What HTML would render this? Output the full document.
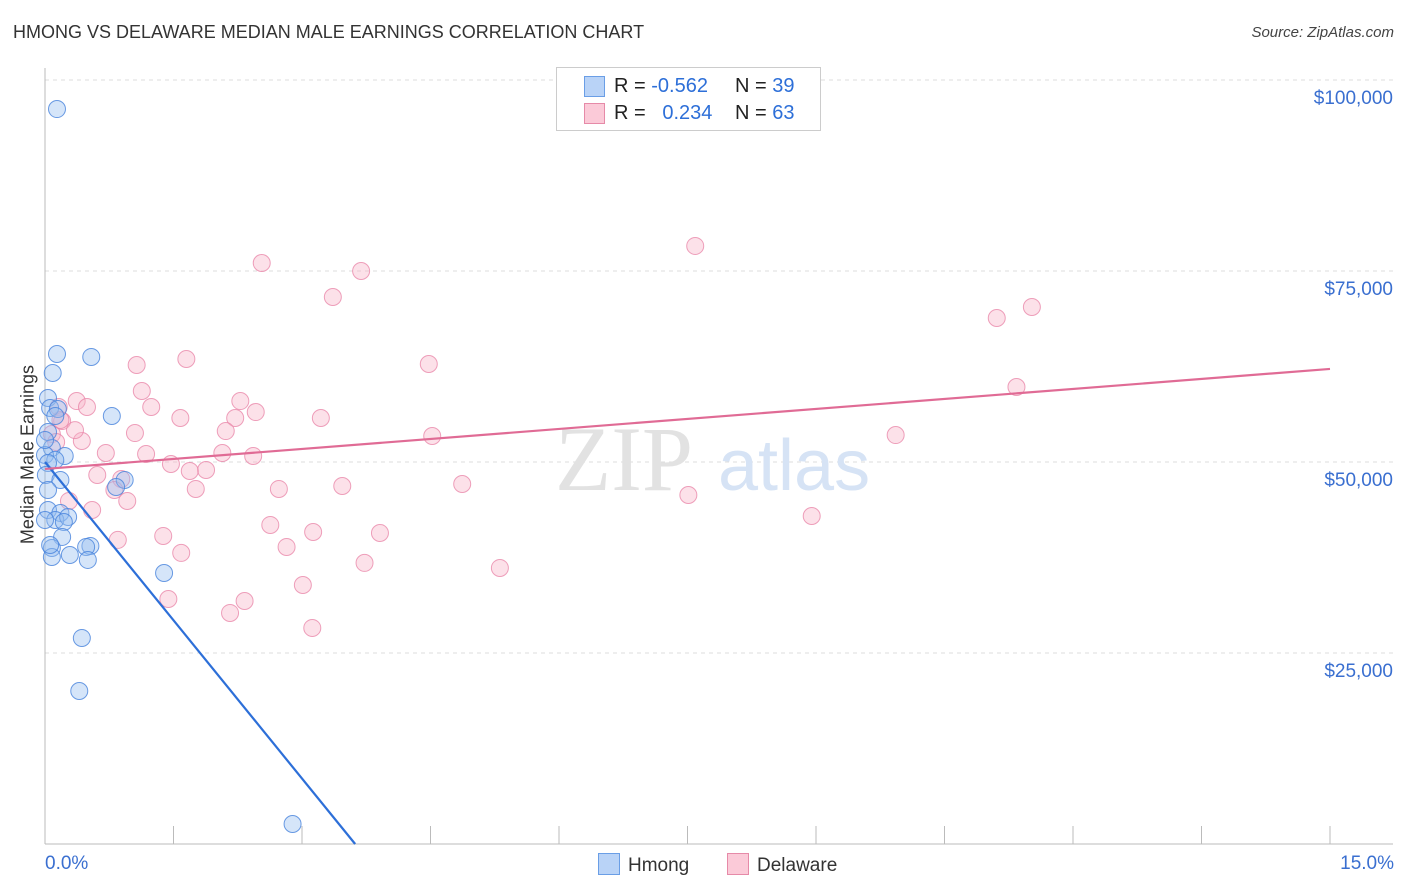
<!DOCTYPE html>
<html><head><meta charset="utf-8">
<style>
body{margin:0;background:#fff;font-family:"Liberation Sans",sans-serif;}
#wrap{position:relative;width:1406px;height:892px;overflow:hidden;}
.t{position:absolute;white-space:nowrap;}
</style></head><body>
<div id="wrap">
<div class="t" style="left:13px;top:22px;font-size:18px;color:#333;">HMONG VS DELAWARE MEDIAN MALE EARNINGS CORRELATION CHART</div>
<div class="t" style="right:12px;top:24px;font-size:15px;color:#444;font-style:italic;">Source: ZipAtlas.com</div>
<svg id="chart" width="1406" height="892" style="position:absolute;left:0;top:0"></svg>
</div>
<script>
const hmongX=[0.14,0.14,0.54,0.09,0.035,0.06,0.15,0.78,0.12,0.035,0.08,0.0,0.23,0.12,0.035,0.01,0.18,0.93,0.83,0.035,0.18,0.12,0.27,0.22,0.2,0.08,0.53,0.48,0.29,0.08,0.5,1.39,0.43,0.4,2.89,0.06,0.0,0.035,0.0];
const hmongY=[96200,64140,63750,61650,58380,57070,56940,56020,56020,53930,51840,50920,50790,50270,49870,48300,47650,47650,46730,43720,43330,42410,42800,42150,40190,38750,39010,38880,37830,37570,37180,35470,26970,20030,2620,39140,52880,46340,42410];
const delX=[7.59,2.53,3.69,3.36,11.52,11.11,1.65,1.07,4.48,11.34,1.13,0.37,2.28,0.16,0.49,1.24,2.46,1.58,2.22,3.22,0.2,2.11,1.05,0.08,0.43,4.52,9.93,0.13,0.71,1.18,2.07,2.43,1.47,1.88,1.69,0.61,0.89,3.47,4.87,0.81,1.76,2.73,7.51,0.28,0.96,0.55,2.63,8.95,1.38,3.13,3.91,0.85,2.82,1.59,3.73,5.31,3.01,1.44,2.33,2.16,3.12,0.18,0.35];
const delY=[78280,76050,75000,71600,70290,68850,63480,62700,62830,59820,59290,57980,57980,57200,57200,57200,56540,55760,55760,55760,55360,54050,53790,53660,52750,53400,53530,52620,51180,51050,51180,50790,49740,48950,48820,48300,47780,46860,47120,46340,46470,46470,45680,44900,44900,43720,41760,42930,40320,40840,40710,39800,38880,38100,36790,36130,33900,32070,31810,30240,28280,55500,54180];
const hmongTrend=[50000,-13810];
const delTrend=[49090,872.7];
const xTicks=[0,1.5,3,4.5,6,7.5,9,10.5,12,13.5,15];
const yTicks=[25000,50000,75000,100000];
const yTickLabels=["$25,000","$50,000","$75,000","$100,000"];

const X0=45,X1=1330,Y0=844,PX=1285/15,PY=191/25000;
const sx=v=>X0+v*PX, sy=v=>Y0-v*PY;
const svg=document.getElementById('chart');
const NS='http://www.w3.org/2000/svg';
function mk(tag,attrs,parent){const e=document.createElementNS(NS,tag);for(const k in attrs)e.setAttribute(k,attrs[k]);(parent||svg).appendChild(e);return e;}

yTicks.forEach((v,i)=>{
  const g=mk('line',{x1:X0,x2:1393,y1:sy(v),y2:sy(v),stroke:'#ddd','stroke-dasharray':'4,4'});
  
  
  const t=mk('text',{x:1393,y:sy(v)+24,'text-anchor':'end','font-size':19,fill:'#3a6fd0','font-family':'Liberation Sans, sans-serif'});
  t.textContent=yTickLabels[i];
  
  
});
const ax=mk('line',{x1:X0,x2:X0,y1:68,y2:Y0,stroke:'#bbb'});


const bx=mk('line',{x1:X0,x2:1393,y1:Y0,y2:Y0,stroke:'#bbb'});


xTicks.forEach(v=>{
  const l=mk('line',{x1:sx(v),x2:sx(v),y1:Y0,y2:Y0-18,stroke:'#bbb'});
  
  
});
const wm=mk('text',{x:555,y:490,'font-size':92,fill:'#e2e2e2','font-family':'Liberation Serif, serif'});
wm.textContent='ZIP';


const wm2=mk('text',{x:718,y:490,'font-size':72,fill:'#d6e3f5','font-family':'Liberation Sans, sans-serif'});
wm2.textContent='atlas';



delX.forEach((v,i)=>{
  const c=mk('circle',{cx:sx(v),cy:sy(delY[i]),r:8.5,fill:'rgba(248,180,200,0.4)',stroke:'rgba(232,130,165,0.75)','stroke-width':1});
  
  
});
hmongX.forEach((v,i)=>{
  const c=mk('circle',{cx:sx(v),cy:sy(hmongY[i]),r:8.5,fill:'rgba(150,190,240,0.4)',stroke:'rgba(70,130,220,0.8)','stroke-width':1});
  
  
});
const hx1=-hmongTrend[0]/hmongTrend[1];
const hl=mk('line',{x1:sx(0),y1:sy(hmongTrend[0]),x2:sx(hx1),y2:sy(0),stroke:'#2d6fd8','stroke-width':2.2});


const dl=mk('line',{x1:sx(0),y1:sy(delTrend[0]),x2:sx(15),y2:sy(delTrend[0]+15*delTrend[1]),stroke:'#e06b95','stroke-width':2.2});


</script>
<div class="t" style="left:-72px;top:444px;transform:rotate(-90deg);font-size:18px;color:#333;width:200px;text-align:center;">Median Male Earnings</div>
<div class="t" style="left:45px;top:853px;font-size:19px;color:#3a6fd0;">0.0%</div>
<div class="t" style="right:12px;top:853px;font-size:19px;color:#3a6fd0;">15.0%</div>
<div style="position:absolute;left:556px;top:67px;width:263px;height:62px;border:1px solid #ccc;background:#fff;font-size:20px;">
  <div style="position:absolute;left:27px;top:8px;width:19px;height:19px;background:#b9d3f7;border:1px solid #6a9ee6;"></div>
  <div class="t" style="left:57px;top:7px;color:#222;">R = <span style="color:#2d6fd8">-0.562</span></div>
  <div class="t" style="left:178px;top:7px;color:#222;">N = <span style="color:#2d6fd8">39</span></div>
  <div style="position:absolute;left:27px;top:35px;width:19px;height:19px;background:#fbcad8;border:1px solid #e68aa8;"></div>
  <div class="t" style="left:57px;top:34px;color:#222;">R = &nbsp;&nbsp;<span style="color:#2d6fd8">0.234</span></div>
  <div class="t" style="left:178px;top:34px;color:#222;">N = <span style="color:#2d6fd8">63</span></div>
</div>
<div style="position:absolute;left:598px;top:853px;font-size:19px;color:#333;">
  <span style="display:inline-block;width:20px;height:20px;background:#b9d3f7;border:1px solid #6a9ee6;vertical-align:-4px;margin-right:8px;"></span>Hmong</div>
<div style="position:absolute;left:727px;top:853px;font-size:19px;color:#333;">
  <span style="display:inline-block;width:20px;height:20px;background:#fbcad8;border:1px solid #e68aa8;vertical-align:-4px;margin-right:8px;"></span>Delaware</div>
</body></html>
